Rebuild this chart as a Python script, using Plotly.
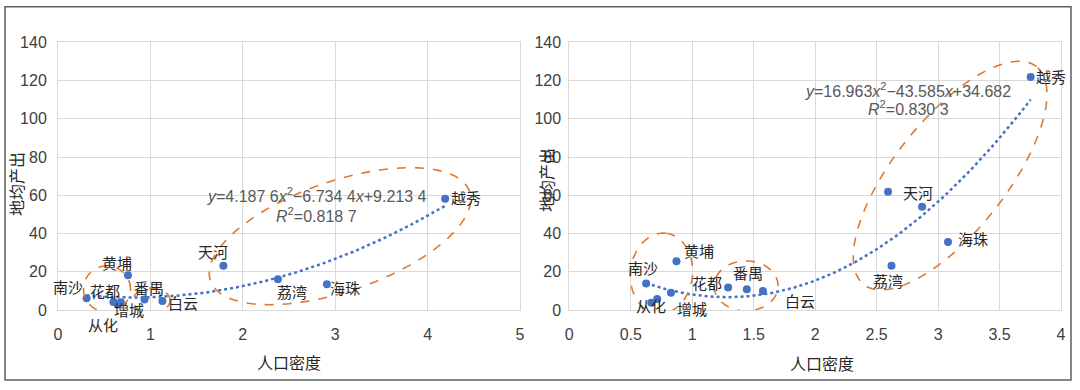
import numpy as np
import plotly.graph_objects as go

# ---------------- data ----------------
left_names = ["南沙", "花都", "从化", "增城", "黄埔", "番禺", "白云", "天河", "荔湾", "海珠", "越秀"]
left_density = [0.31, 0.60, 0.645, 0.68, 0.757, 0.936, 1.13, 1.79, 2.38, 2.91, 4.19]
left_output = [6.1, 4.2, 2.9, 4.0, 18.2, 5.5, 4.7, 23.2, 16.1, 13.5, 58.2]
left_coef = [4.1876, -6.7344, 9.2134]
left_eq = "<i>y</i>=4.187 6<i>x</i><sup>2</sup>−6.734 4<i>x</i>+9.213 4"
left_r2 = "<i>R</i><sup>2</sup>=0.818 7"

right_names = ["南沙", "从化", "", "增城", "黄埔", "花都", "番禺", "白云", "天河", "", "海珠", "荔湾", "越秀"]
right_density = [0.625, 0.667, 0.715, 0.827, 0.872, 1.292, 1.444, 1.575, 2.593, 2.870, 3.081, 2.621, 3.753]
right_output = [13.9, 3.8, 5.7, 9.0, 25.5, 11.8, 10.9, 9.9, 61.8, 54.0, 35.6, 23.1, 121.9]
right_coef = [16.963, -43.585, 34.682]
right_eq = "<i>y</i>=16.963<i>x</i><sup>2</sup>−43.585<i>x</i>+34.682"
right_r2 = "<i>R</i><sup>2</sup>=0.830 3"

x_title = "人口密度"
y_title = "地均产出"
y_ticks = [0, 20, 40, 60, 80, 100, 120, 140]
left_x_ticks = [0, 1, 2, 3, 4, 5]
right_x_ticks = [0, 0.5, 1, 1.5, 2, 2.5, 3, 3.5, 4]

# ---------------- styling / layout constants ----------------
W, H = 1080, 390
LX0, LX1 = 58, 520
RX0, RX1 = 569.3, 1061
YTOP, YBOT = 42.3, 310
BLUE = "#4472C4"
ORANGE = "#E0782F"
GRID = "#D9D9D9"
TXT = "#262626"
TICK = "#404040"
CJK = "Noto Sans CJK SC"
LAT = "Liberation Sans, Arial"

left_label_shift = {"南沙": (-19, 12), "花都": (-8, 11), "从化": (-15, -20), "增城": (8, -7),
                    "黄埔": (-11, 13), "番禺": (5, 12), "白云": (21, -1), "天河": (-10, 14),
                    "荔湾": (14, -12), "海珠": (18, -3), "越秀": (21, 1)}
right_label_shift = {"南沙": (-3, 16), "从化": (0, -3), "增城": (21, -16), "黄埔": (23, 11),
                     "花都": (-21, 5), "番禺": (1, 17), "白云": (37, -9), "天河": (30, -1),
                     "海珠": (25, 3), "荔湾": (-3, -15), "越秀": (20, 0)}

lpx = (LX1 - LX0) / 5.0
rpx = (RX1 - RX0) / 4.0
ypx = (YBOT - YTOP) / 140.0

# ellipses: (center x data, center y data, semi-axis a px, semi-axis b px, angle deg)
left_ellipses = [(0.53, 11.0, 23.5, 23, 0), (1.012, 5.0, 18.5, 12.3, 0), (3.052, 38.6, 137, 55, 19)]
right_ellipses = [(0.750, 19.1, 40.5, 31, 84), (1.438, 12.6, 32, 25, 0), (3.098, 70.3, 139, 56, 51.6)]


def ellipse_path(cx, cy, a, b, ang, pxx, pxy, n=120):
    t = np.linspace(0, 2 * np.pi, n)
    th = np.deg2rad(ang)
    ex, ey = a * np.cos(t), b * np.sin(t)
    X = ex * np.cos(th) - ey * np.sin(th)
    Y = ex * np.sin(th) + ey * np.cos(th)
    xs = cx + X / pxx
    ys = cy + Y / pxy
    pts = [f"{x:.5f},{y:.5f}" for x, y in zip(xs, ys)]
    return "M " + " L ".join(pts) + " Z"


fig = go.Figure()

# trendlines + points
for names, xs, ys, coef, xa, ya in [
    (left_names, left_density, left_output, left_coef, "x", "y"),
    (right_names, right_density, right_output, right_coef, "x2", "y2"),
]:
    xt = np.linspace(min(xs), max(xs), 200)
    yt = np.polyval(coef, xt)
    fig.add_trace(go.Scatter(x=xt, y=yt, mode="lines", xaxis=xa, yaxis=ya,
                             line=dict(color=BLUE, width=2.5, dash="dot"),
                             hoverinfo="skip", showlegend=False))
    fig.add_trace(go.Scatter(x=xs, y=ys, mode="markers", xaxis=xa, yaxis=ya,
                             marker=dict(color=BLUE, size=8),
                             text=names, showlegend=False, cliponaxis=False))

annotations = []
for names, xs, ys, shifts, xa, ya in [
    (left_names, left_density, left_output, left_label_shift, "x", "y"),
    (right_names, right_density, right_output, right_label_shift, "x2", "y2"),
]:
    for nm, xv, yv in zip(names, xs, ys):
        if not nm:
            continue
        dx, dy = shifts[nm]
        annotations.append(dict(x=xv, y=yv, xref=xa, yref=ya, text=nm, showarrow=False,
                                xshift=dx, yshift=dy, xanchor="center", yanchor="middle",
                                font=dict(family=CJK, size=15, color=TXT)))

# equations
for eq, r2, xa, ya, ex, ey1, ey2 in [
    (left_eq, left_r2, "x", "y", 2.80, 60.3, 49.8),
    (right_eq, right_r2, "x2", "y2", 2.756, 115.3, 105.4),
]:
    annotations.append(dict(x=ex, y=ey1, xref=xa, yref=ya, text=eq, showarrow=False,
                            xanchor="center", yanchor="middle",
                            font=dict(family=LAT, size=16, color="#595959")))
    annotations.append(dict(x=ex, y=ey2, xref=xa, yref=ya, text=r2, showarrow=False,
                            xanchor="center", yanchor="middle",
                            font=dict(family=LAT, size=16, color="#595959")))

# axis titles
for px_x, px_y in [(289, 362), (822, 363)]:
    annotations.append(dict(x=px_x / W, y=1 - px_y / H, xref="paper", yref="paper", text=x_title,
                            showarrow=False, xanchor="center", yanchor="middle",
                            font=dict(family=CJK, size=16, color=TXT)))
for px_x, px_y in [(16, 184), (546, 180)]:
    annotations.append(dict(x=px_x / W, y=1 - px_y / H, xref="paper", yref="paper", text=y_title,
                            showarrow=False, xanchor="center", yanchor="middle", textangle=-90,
                            font=dict(family=CJK, size=16, color=TXT)))

shapes = []
for (cx, cy, a, b, ang) in left_ellipses:
    shapes.append(dict(type="path", xref="x", yref="y", path=ellipse_path(cx, cy, a, b, ang, lpx, ypx),
                       line=dict(color=ORANGE, width=1.6, dash="dash"), layer="above"))
for (cx, cy, a, b, ang) in right_ellipses:
    shapes.append(dict(type="path", xref="x2", yref="y2", path=ellipse_path(cx, cy, a, b, ang, rpx, ypx),
                       line=dict(color=ORANGE, width=1.6, dash="dash"), layer="above"))
# outer frame
shapes.append(dict(type="rect", xref="paper", yref="paper", x0=5 / W, x1=1071 / W,
                   y0=1 - 380 / H, y1=1 - 6.7 / H, line=dict(color="#5f5f5f", width=1.5)))

ydom = [1 - YBOT / H, 1 - YTOP / H]
axis_common = dict(showgrid=True, gridcolor=GRID, gridwidth=1, zeroline=False, showline=True,
                   mirror=True, linecolor=GRID, linewidth=1, ticks="", automargin=False,
                   tickfont=dict(family=LAT, size=16, color=TICK))

fig.update_layout(
    width=W, height=H, autosize=False,
    margin=dict(l=0, r=0, t=0, b=0, pad=0, autoexpand=False),
    paper_bgcolor="white", plot_bgcolor="white",
    showlegend=False,
    xaxis=dict(domain=[LX0 / W, LX1 / W], range=[0, 5], tickvals=left_x_ticks, anchor="y",
               ticklabelstandoff=10, **axis_common),
    yaxis=dict(domain=ydom, range=[0, 140], tickvals=y_ticks, anchor="x",
               ticklabelstandoff=7, **axis_common),
    xaxis2=dict(domain=[RX0 / W, RX1 / W], range=[0, 4], tickvals=right_x_ticks, anchor="y2",
                ticklabelstandoff=10, **axis_common),
    yaxis2=dict(domain=ydom, range=[0, 140], tickvals=y_ticks, anchor="x2",
                ticklabelstandoff=4, **axis_common),
    annotations=annotations,
    shapes=shapes,
)

fig.write_html("out.html", config={"displayModeBar": False},
               post_script="document.body.style.margin='0';document.body.style.overflow='hidden';")
